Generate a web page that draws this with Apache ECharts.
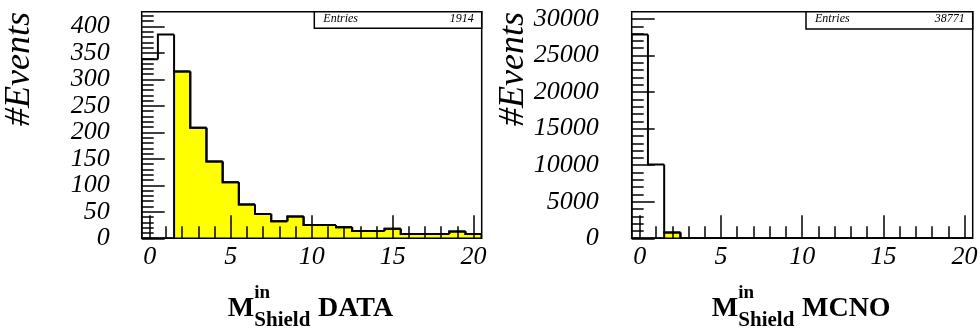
<!DOCTYPE html>
<html>
<head>
<meta charset="utf-8">
<script src="https://cdn.jsdelivr.net/npm/echarts@6/dist/echarts.min.js"></script>
<style>
  html, body { margin: 0; padding: 0; background: #fff; }
  #chart { width: 980px; height: 331px; }
</style>
</head>
<body>
<div id="chart"></div>
<script>
// Bin centres of the multiplicity histograms (unit-wide bins)
const binCenters = [0, 1, 2, 3, 4, 5, 6, 7, 8, 9, 10, 11, 12, 13, 14, 15, 16, 17, 18, 19, 20];
const binWidth = 1;

// DATA: all events and the selected part (filled)
const dataAll = [338, 385, 315, 209, 145, 106, 64, 46, 32, 41, 25, 25, 21, 14, 14, 18, 8, 8, 8, 13, 8];
const dataSel = [0, 0, 315, 209, 145, 106, 64, 46, 32, 41, 25, 25, 21, 14, 14, 18, 8, 8, 8, 13, 8];
const dataEntries = 1914;

// MCNO: all events and the selected part (filled)
const mcAll = [27870, 10100, 800, 0, 0, 0, 0, 0, 0, 0, 0, 0, 0, 0, 0, 0, 0, 0, 0, 0, 0];
const mcSel = [0, 0, 800, 0, 0, 0, 0, 0, 0, 0, 0, 0, 0, 0, 0, 0, 0, 0, 0, 0, 0];
const mcEntries = 38771;

// Axis ticks
const xMajorTicks = [0, 5, 10, 15, 20];
const xMinorTicks = [0, 1, 2, 3, 4, 5, 6, 7, 8, 9, 10, 11, 12, 13, 14, 15, 16, 17, 18, 19, 20];
const dataYMajor = [0, 50, 100, 150, 200, 250, 300, 350, 400];
const dataYMinor = [0, 10, 20, 30, 40, 50, 60, 70, 80, 90, 100, 110, 120, 130, 140, 150, 160, 170, 180, 190,
  200, 210, 220, 230, 240, 250, 260, 270, 280, 290, 300, 310, 320, 330, 340, 350, 360, 370, 380, 390, 400, 410, 420];
const mcYMajor = [0, 5000, 10000, 15000, 20000, 25000, 30000];
const mcYMinor = [0, 1000, 2000, 3000, 4000, 5000, 6000, 7000, 8000, 9000, 10000, 11000, 12000, 13000, 14000,
  15000, 16000, 17000, 18000, 19000, 20000, 21000, 22000, 23000, 24000, 25000, 26000, 27000, 28000, 29000, 30000];

const xRange = [-0.5, 20.5];
const dataYMax = 428;
const mcYMax = 31000;

const SERIF = "'Liberation Serif', 'Times New Roman', serif";
const labelFont = { color: '#000', fontFamily: SERIF, fontStyle: 'italic', fontSize: 26 };

const chart = echarts.init(document.getElementById('chart'), null, { renderer: 'canvas' });

function grid(left, width) {
  return {
    left: left, top: 11.7, width: width, height: 226.6,
    show: true, borderColor: '#000', borderWidth: 1.5, backgroundColor: 'transparent',
    z: 3, outerBoundsMode: 'none', containLabel: false
  };
}

function xAxes(gridIndex) {
  return [
    {
      type: 'value', gridIndex: gridIndex, min: xRange[0], max: xRange[1], position: 'bottom', z: 5,
      axisLine: { show: false, onZero: false }, splitLine: { show: false },
      axisTick: { show: true, inside: true, length: 23, customValues: xMajorTicks, lineStyle: { color: '#000', width: 1.5 } },
      axisLabel: Object.assign({ show: true, margin: 6, customValues: xMajorTicks, formatter: v => String(v) }, labelFont)
    },
    {
      type: 'value', gridIndex: gridIndex, min: xRange[0], max: xRange[1], position: 'bottom', z: 5,
      axisLine: { show: false, onZero: false }, splitLine: { show: false },
      axisTick: { show: true, inside: true, length: 12, customValues: xMinorTicks, lineStyle: { color: '#000', width: 1.5 } },
      axisLabel: { show: false, customValues: xMinorTicks }
    }
  ];
}

function yAxes(gridIndex, max, major, minor, margin) {
  return [
    {
      type: 'value', gridIndex: gridIndex, min: 0, max: max, position: 'left', z: 5,
      axisLine: { show: false, onZero: false }, splitLine: { show: false },
      axisTick: { show: true, inside: true, length: 23, customValues: major, lineStyle: { color: '#000', width: 1.5 } },
      axisLabel: Object.assign({ show: true, margin: margin, customValues: major, formatter: v => String(v) }, labelFont)
    },
    {
      type: 'value', gridIndex: gridIndex, min: 0, max: max, position: 'left', z: 5,
      axisLine: { show: false, onZero: false }, splitLine: { show: false },
      axisTick: { show: true, inside: true, length: 12, customValues: minor, lineStyle: { color: '#000', width: 1.5 } },
      axisLabel: { show: false, customValues: minor }
    }
  ];
}

// Step-outline histogram; optional fill per bin
function histSeries(name, values, fill, xIdx, yIdx) {
  return {
    type: 'custom', name: name, xAxisIndex: xIdx, yAxisIndex: yIdx, z: 1, clip: true,
    data: binCenters.map((c, i) => [c, values[i]]),
    encode: { x: 0, y: 1 },
    renderItem: function (params, api) {
      const i = params.dataIndex;
      const c = api.value(0), v = api.value(1);
      const lo = c - binWidth / 2, hi = c + binWidth / 2;
      const prev = i > 0 ? values[i - 1] : 0;
      const pLo0 = api.coord([lo, 0]);
      const pLoPrev = api.coord([lo, prev]);
      const pLoV = api.coord([lo, v]);
      const pHiV = api.coord([hi, v]);
      const pHi0 = api.coord([hi, 0]);
      const children = [];
      if (fill && v > 0) {
        // slight overlap so neighbouring bins join without seams
        children.push({
          type: 'rect',
          shape: { x: pLo0[0], y: pHiV[1], width: pHiV[0] - pLo0[0] + 0.8, height: pLo0[1] - pHiV[1] },
          style: { fill: fill }
        });
      }
      const pts = [pLoPrev, pLoV, pHiV];
      if (i === values.length - 1) pts.push(pHi0);
      children.push({ type: 'polyline', shape: { points: pts }, style: { stroke: '#000', lineWidth: 2, fill: null } });
      return { type: 'group', children: children };
    }
  };
}

// Axis titles and statistics boxes
function xTitle(x0, word) {
  const bold = { fontFamily: SERIF, fontWeight: 'bold', fill: '#000', align: 'left', verticalAlign: 'middle' };
  return [
    { type: 'text', x: x0, y: 309, style: Object.assign({ text: 'M', fontSize: 28 }, bold) },
    { type: 'text', x: x0 + 26.6, y: 293, style: Object.assign({ text: 'in', fontSize: 19 }, bold) },
    { type: 'text', x: x0 + 26.6, y: 321, style: Object.assign({ text: 'Shield', fontSize: 21 }, bold) },
    { type: 'text', x: x0 + 90.3, y: 309, style: Object.assign({ text: word, fontSize: 28 }, bold) }
  ];
}
function yTitle(x) {
  return {
    type: 'text', x: x, y: 69, rotation: Math.PI / 2, z: 10,
    style: { text: '#Events', fontFamily: SERIF, fontStyle: 'italic', fontSize: 36, fill: '#000', align: 'center', verticalAlign: 'middle' }
  };
}
function statBox(left, right, bottom, entries) {
  const it = { fontFamily: SERIF, fontStyle: 'italic', fontSize: 12, fill: '#000', verticalAlign: 'middle' };
  return [
    { type: 'rect', z: 10, shape: { x: left, y: 11.7, width: right - left, height: bottom - 11.7 },
      style: { fill: '#fff', stroke: '#000', lineWidth: 1.5 } },
    { type: 'text', z: 11, x: left + 9, y: 18.5, style: Object.assign({ text: 'Entries', align: 'left' }, it) },
    { type: 'text', z: 11, x: right - 8, y: 18.5, style: Object.assign({ text: String(entries), align: 'right' }, it) }
  ];
}

const option = {
  animation: false,
  backgroundColor: '#fff',
  grid: [grid(141.7, 340), grid(631.7, 341)],
  xAxis: [].concat(xAxes(0), xAxes(1)),
  yAxis: [].concat(yAxes(0, dataYMax, dataYMajor, dataYMinor, 32), yAxes(1, mcYMax, mcYMajor, mcYMinor, 33)),
  series: [
    histSeries('DATA selected', dataSel, '#ffff00', 0, 0),
    histSeries('DATA', dataAll, null, 0, 0),
    histSeries('MCNO selected', mcSel, '#ffff00', 2, 2),
    histSeries('MCNO', mcAll, null, 2, 2)
  ],
  graphic: [].concat(
    xTitle(227.7, 'DATA'),
    xTitle(711.7, 'MCNO'),
    [yTitle(20), yTitle(513.6)],
    statBox(314.3, 481.7, 28.3, dataEntries),
    statBox(806, 972.7, 29, mcEntries)
  )
};

chart.setOption(option);
</script>
</body>
</html>
